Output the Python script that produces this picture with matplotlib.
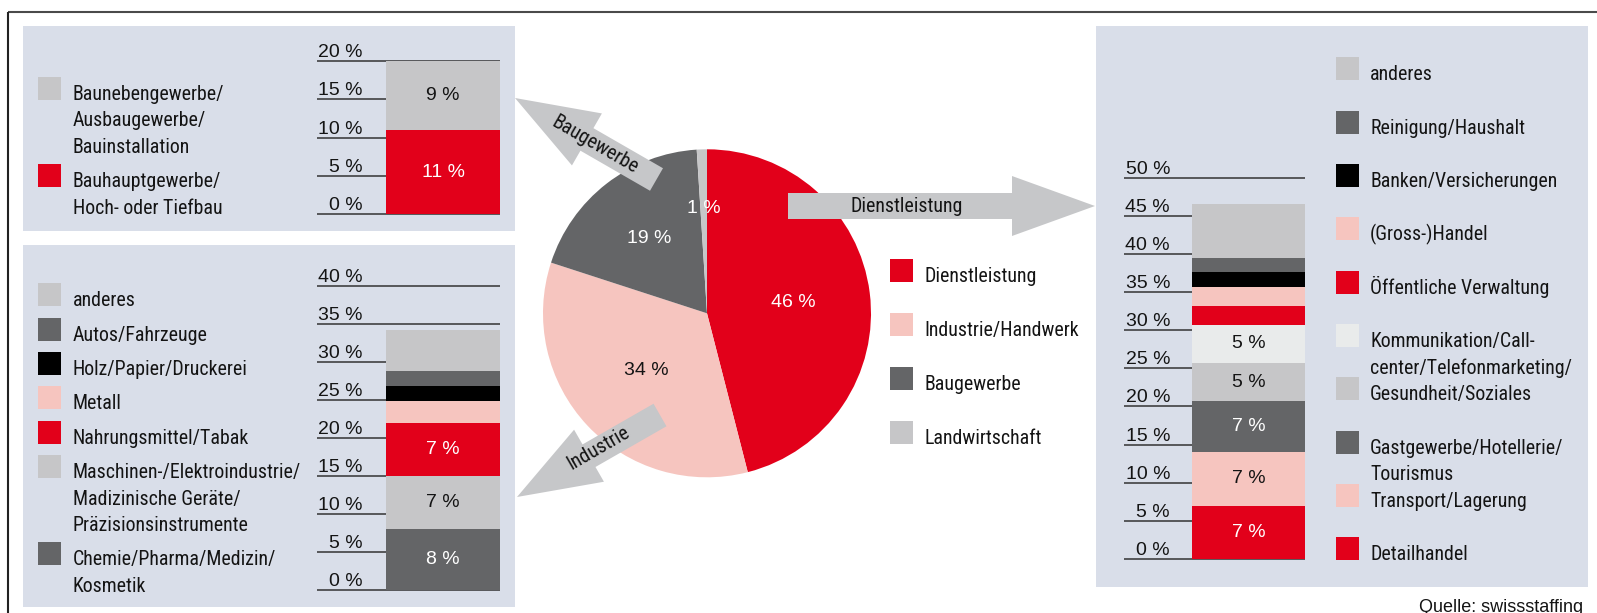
import numpy as np
import matplotlib
matplotlib.use("Agg")
import matplotlib.pyplot as plt
import matplotlib.transforms as mtransforms
from matplotlib.patches import Rectangle, FancyArrow

W, H = 1597, 613
DPI = 100

NARROW = ['Roboto Condensed', 'Archivo Narrow', 'DejaVu Sans']
REGULAR = ['Liberation Sans', 'DejaVu Sans']
plt.rcParams['font.family'] = NARROW

RED = '#e2001a'
PINK = '#f6c5bf'
DARK = '#646567'
GREY = '#c6c6c8'
BLACK = '#000000'
LIGHT = '#e9ebeb'
PANEL = '#d9dee9'
ARROW = '#c6c7c9'
TXT = '#141414'
FS_WORD = 14.3
FS_NUM = 14

# Pie: share by sector
sectors = ['Dienstleistung', 'Industrie/Handwerk', 'Baugewerbe', 'Landwirtschaft']
sector_share = [46, 34, 19, 1]
sector_colors = [RED, PINK, DARK, GREY]
sector_text = ['46 %', '34 %', '19 %', '1 %']

# Baugewerbe (bottom to top)
bau_cats = ['Bauhauptgewerbe/\nHoch- oder Tiefbau',
            'Baunebengewerbe/\nAusbaugewerbe/\nBauinstallation']
bau_vals = [11, 9]
bau_colors = [RED, GREY]
bau_text = ['11 %', '9 %']
bau_ticks = [0, 5, 10, 15, 20]

# Industrie (bottom to top)
ind_cats = ['Chemie/Pharma/Medizin/\nKosmetik',
            'Maschinen-/Elektroindustrie/\nMadizinische Geräte/\nPräzisionsinstrumente',
            'Nahrungsmittel/Tabak', 'Metall', 'Holz/Papier/Druckerei',
            'Autos/Fahrzeuge', 'anderes']
ind_vals = [8, 7, 7, 2.9, 1.9, 2.0, 5.4]
ind_colors = [DARK, GREY, RED, PINK, BLACK, DARK, GREY]
ind_text = ['8 %', '7 %', '7 %', '', '', '', '']
ind_ticks = [0, 5, 10, 15, 20, 25, 30, 35, 40]

# Dienstleistung (bottom to top)
dl_cats = ['Detailhandel', 'Transport/Lagerung',
           'Gastgewerbe/Hotellerie/\nTourismus', 'Gesundheit/Soziales',
           'Kommunikation/Call-\ncenter/Telefonmarketing/',
           'Öffentliche Verwaltung', '(Gross-)Handel', 'Banken/Versicherungen',
           'Reinigung/Haushalt', 'anderes']
dl_vals = [7, 7, 6.7, 5, 5, 2.5, 2.5, 1.9, 1.9, 7.1]
dl_colors = [RED, PINK, DARK, GREY, LIGHT, RED, PINK, BLACK, DARK, GREY]
dl_text = ['7 %', '7 %', '7 %', '5 %', '5 %', '', '', '', '', '']
dl_ticks = [0, 5, 10, 15, 20, 25, 30, 35, 40, 45, 50]


def text_color(c):
    return 'white' if c in (RED, DARK, BLACK) else TXT


fig = plt.figure(figsize=(W / DPI, H / DPI), dpi=DPI)

# pixel-coordinate background layer
bg = fig.add_axes([0, 0, 1, 1], zorder=0)
bg.set_xlim(0, W)
bg.set_ylim(H, 0)
bg.axis('off')

bg.plot([8, W], [12, 12], color='#4a4a4a', lw=1.5, solid_capstyle='butt')
bg.plot([8, 8], [12, H], color='#222222', lw=1.5, solid_capstyle='butt')

for (x0, y0, x1, y1) in [(23, 26, 515, 231), (23, 245, 515, 607), (1096, 26, 1588, 587)]:
    bg.add_patch(Rectangle((x0, y0), x1 - x0, y1 - y0, color=PANEL, lw=0))


def legend(cats, colors, sq_tops, sq_x, txt_x, line_h=26.5):
    for cat, col, top in zip(cats, colors, sq_tops):
        bg.add_patch(Rectangle((sq_x, top), 23, 23, color=col, lw=0))
        for i, line in enumerate(cat.split('\n')):
            bg.text(txt_x, top + 23 + i * line_h, line, fontsize=FS_WORD,
                    color=TXT, ha='left', va='baseline')


# legends (top to bottom order)
legend(bau_cats[::-1], bau_colors[::-1], [77, 164], 38, 73)
legend(ind_cats[::-1], ind_colors[::-1], [283, 318, 352, 386, 421, 455, 542], 38, 73)
legend(dl_cats[::-1], dl_colors[::-1],
       [57, 111, 164, 217, 271, 324, 377, 431, 484, 537], 1336, 1370)
legend(sectors, sector_colors, [259, 313, 367, 421], 890, 924)


def px_axes(left, right, y_bottom, y_top, zorder=2):
    return fig.add_axes([left / W, 1 - y_bottom / H, (right - left) / W,
                         (y_bottom - y_top) / H], zorder=zorder)


def stacked(left, bar_left, right, label_right, y0, ytop, vals, colors, texts, ticks):
    ax = px_axes(left, right, y0, ytop)
    ax.patch.set_alpha(0)
    ax.set_xlim(left, right)
    ax.set_ylim(0, ticks[-1])
    ax.axis('off')
    bottoms = np.concatenate([[0], np.cumsum(vals)[:-1]])
    xc = (bar_left + right) / 2
    ax.bar([xc] * len(vals), vals, width=right - bar_left, bottom=bottoms,
           color=colors, lw=0, zorder=2)
    ax.hlines(ticks, left, right, color='#333333', lw=1.1, zorder=1, clip_on=False)
    trans = mtransforms.offset_copy(ax.transData, fig=fig, y=4, units='dots')
    for t in ticks:
        ax.text(label_right, t, f'{t} %', ha='right', va='baseline', transform=trans,
                fontsize=FS_NUM, family=REGULAR, color=TXT)
    for v, b, s, c in zip(vals, bottoms, texts, colors):
        if s:
            ax.text(xc, b + v / 2, s, ha='center', va='center', fontsize=FS_NUM,
                    family=REGULAR, color=text_color(c))
    return ax


stacked(317, 386, 500, 363, 214, 61.3, bau_vals, bau_colors, bau_text, bau_ticks)
stacked(317, 386, 500, 363, 590, 285.7, ind_vals, ind_colors, ind_text, ind_ticks)
stacked(1124, 1192, 1305, 1170, 559, 177.7, dl_vals, dl_colors, dl_text, dl_ticks)

# pie
cx, cy, r = 707, 313.3, 164
pax = px_axes(cx - r, cx + r, cy + r, cy - r)
pax.pie(sector_share, colors=sector_colors, startangle=90, counterclock=False,
        radius=1, wedgeprops=dict(lw=0))
pax.set_xlim(-1, 1)
pax.set_ylim(-1, 1)
pax.axis('off')
fracs = np.array(sector_share) / np.sum(sector_share)
mids = (np.cumsum(fracs) - fracs / 2) * 2 * np.pi
for m, s, c, d in zip(mids, sector_text, sector_colors, [0.53, 0.51, 0.58, 0.64]):
    pax.text(d * np.sin(m), d * np.cos(m), s, ha='center', va='center',
             fontsize=FS_NUM, family=REGULAR, color='white' if c != PINK else TXT)

# arrows on top
ov = fig.add_axes([0, 0, 1, 1], zorder=5)
ov.set_xlim(0, W)
ov.set_ylim(H, 0)
ov.axis('off')
ov.patch.set_alpha(0)

arrows = [
    ((788, 206), (1095, 206), 'Dienstleistung', (907, 207), 0),
    ((656.5, 179.5), (515, 98), 'Baugewerbe', (595, 145), -30),
    ((660, 415), (517, 497), 'Industrie', (598, 448), 30),
]
for (tx, ty), (hx, hy), lab, (lx, ly), rot in arrows:
    ov.add_patch(FancyArrow(tx, ty, hx - tx, hy - ty, width=26, head_width=60,
                            head_length=83, length_includes_head=True,
                            color=ARROW, lw=0))
    ov.text(lx, ly, lab, ha='center', va='center', rotation=rot,
            rotation_mode='anchor', fontsize=FS_WORD, color=TXT)

bg.text(1583, 612.5, 'Quelle: swissstaffing', ha='right', va='baseline',
        fontsize=13, family=REGULAR, color=TXT)

fig.savefig('out.png', dpi=DPI)
